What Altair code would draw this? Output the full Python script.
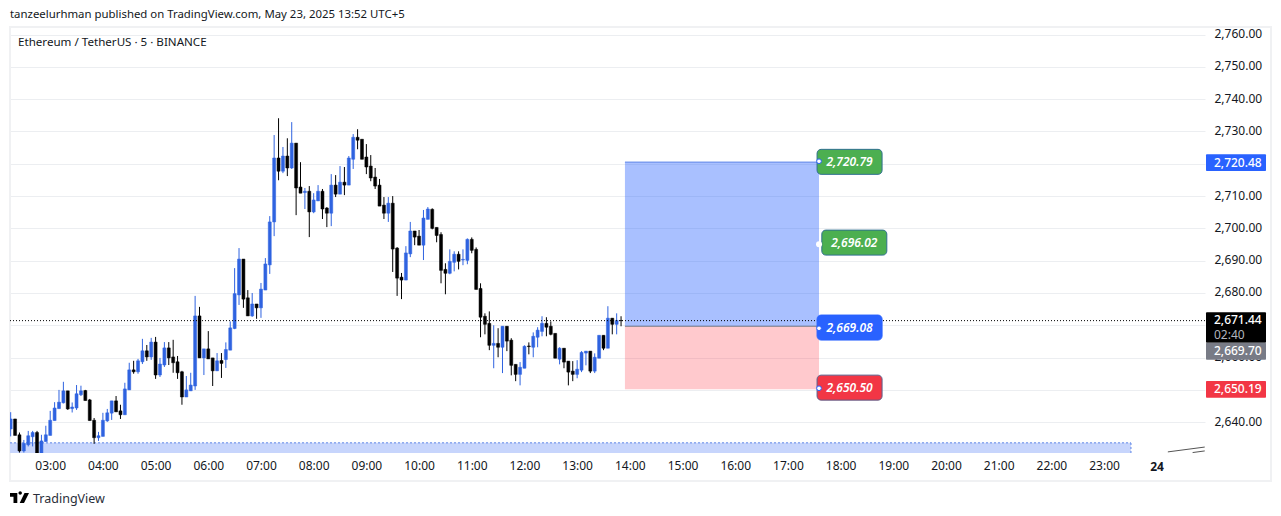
import altair as alt
import pandas as pd

# OHLC values of the 5-minute candles
opens = [2637.9,2641.0,2636.1,2631.1,2633.0,2635.5,2636.8,2630.4,2634.0,2635.9,2640.5,2644.2,2646.0,2649.7,2644.2,2644.4,2648.5,2649.8,2646.9,2640.6,2635.2,2635.6,2640.4,2642.8,2646.6,2643.5,2642.3,2650.0,2656.2,2655.6,2658.7,2662.1,2660.2,2664.8,2654.6,2657.7,2663.0,2660.2,2658.7,2655.6,2647.8,2649.7,2651.2,2672.9,2659.9,2662.7,2659.9,2655.9,
 2659.1,2659.4,2662.3,2669.0,
 2679.4,2690.5,2678.5,2672.9,2676.6,2675.4,2680.9,2688.7,2702.0,2721.8,2717.7,2722.4,2718.7,2726.4,2712.8,2711.1,2711.5,2705.1,2708.5,2711.5,2706.3,2704.7,2713.4,2710.6,2714.3,2713.4,2721.4,2728.2,2727.6,2722.1,2719.3,2715.9,2713.4,2707.2,2704.7,2707.8,2693.9,2684.9,2684.0,2692.1,2699.2,2697.6,2694.8,2702.8,
 2705.9,2700.3,2698.1,2687.3,2686.1,2689.5,2692.0,2690.2,2690.1,2696.6,2693.5,2681.4,2672.8,2670.6,2663.8,2664.4,2663.2,2669.7,2665.4,2657.9,2654.8,2656.7,2663.6,2663.2,2666.3,2668.1,2670.6,2669.7,2667.5,2659.5,2662.9,2658.9,2655.8,2654.8,2656.1,2661.4,2662.0,2655.8,2659.8,2666.9,2662.9,2672.2,2670.3,2671.5]
closes = [2641.0,2635.9,2631.1,2633.4,2635.8,2636.8,2630.4,2634.2,2636.1,2640.6,2644.4,2646.2,2649.7,2644.1,2644.7,2648.8,2649.7,2646.7,2640.5,2635.2,2635.8,2640.6,2642.9,2646.6,2643.2,2642.3,2650.3,2656.2,2655.6,2659.0,2662.1,2660.2,2664.8,2654.6,2658.0,2663.0,2659.9,2658.4,2655.3,2647.8,2650.0,2651.5,2672.9,2659.9,2662.7,2659.6,2655.9,2659.0,
 2658.2,2662.5,2669.2,2679.8,
 2690.5,2678.1,2672.9,2676.6,2675.4,2681.2,2689.0,2702.0,2721.8,2717.7,2722.4,2718.7,2726.4,2712.5,2710.9,2711.5,2705.1,2708.8,2711.5,2706.0,2704.7,2713.4,2710.6,2714.3,2713.4,2721.8,2728.2,2727.3,2721.4,2719.0,2715.6,2713.1,2706.9,2704.7,2707.8,2693.6,2684.6,2684.0,2692.4,2699.2,2697.3,2694.8,2703.2,2706.0,
 2700.0,2697.8,2687.0,2686.1,2689.8,2692.0,2689.8,2690.4,2696.6,2693.2,2681.1,2672.5,2670.3,2663.8,2664.4,2663.2,2669.7,2665.1,2657.6,2654.8,2657.0,2663.5,2663.4,2666.6,2668.5,2670.6,2669.4,2667.2,2659.8,2662.9,2658.6,2655.5,2654.8,2656.4,2661.6,2662.0,2655.8,2660.1,2666.9,2662.9,2672.2,2670.3,2671.5,2671.44]
highs = [2643.1,2641.0,2636.8,2634.5,2637.3,2637.3,2637.3,2636.1,2638.9,2643.5,2646.2,2650.0,2652.5,2649.7,2646.1,2651.5,2651.3,2650.0,2647.2,2641.3,2637.0,2642.9,2644.1,2646.6,2648.1,2645.4,2652.2,2658.4,2659.0,2659.6,2665.8,2663.9,2666.1,2666.4,2659.9,2664.8,2664.8,2665.5,2660.5,2655.9,2654.3,2655.3,2679.1,2675.7,2662.7,2668.2,2659.9,2661.4,
 2661.4,2664.7,2671.2,2687.7,
 2693.9,2690.5,2680.9,2680.0,2676.6,2683.1,2690.8,2703.8,2728.9,2734.1,2725.2,2727.9,2732.9,2726.4,2720.5,2712.5,2713.1,2710.9,2713.4,2712.2,2706.6,2716.8,2716.5,2719.3,2719.0,2722.4,2729.2,2730.7,2727.6,2726.1,2722.7,2718.7,2715.3,2709.7,2709.7,2710.0,2694.2,2686.2,2694.5,2702.0,2699.2,2699.5,2705.7,2706.6,
 2706.2,2700.3,2698.8,2689.2,2693.5,2692.9,2692.9,2693.5,2696.9,2697.2,2694.1,2683.0,2673.7,2674.3,2670.0,2669.1,2669.7,2669.7,2666.0,2657.9,2658.6,2663.8,2664.7,2667.8,2669.4,2672.8,2672.5,2671.2,2667.5,2663.2,2662.9,2658.9,2658.9,2659.2,2662.0,2662.0,2662.0,2661.3,2666.9,2666.9,2675.9,2672.2,2673.7,2672.8]
lows = [2635.6,2635.9,2630.6,2630.6,2632.5,2632.5,2630.0,2630.0,2634.0,2635.9,2640.5,2644.2,2645.8,2643.8,2643.0,2643.8,2648.1,2646.7,2640.5,2633.3,2634.2,2635.6,2640.1,2640.7,2643.2,2641.0,2642.3,2650.0,2655.0,2655.0,2658.0,2659.0,2659.3,2653.4,2654.0,2657.1,2657.7,2655.3,2653.4,2645.4,2647.8,2649.7,2650.0,2659.9,2654.6,2659.6,2651.2,2655.9,
 2653.7,2656.8,2662.3,2668.8,
 2676.3,2675.4,2672.9,2672.6,2672.0,2672.3,2680.9,2685.9,2697.6,2714.9,2717.1,2716.2,2718.4,2704.1,2710.9,2706.0,2697.3,2704.7,2708.5,2702.9,2700.4,2700.7,2709.7,2710.6,2710.3,2713.4,2718.4,2724.5,2721.4,2716.8,2714.6,2712.2,2706.9,2702.9,2702.0,2686.5,2679.1,2678.1,2684.0,2691.1,2694.8,2694.8,2690.2,2702.8,
 2699.7,2695.7,2683.0,2679.6,2685.8,2686.7,2687.3,2688.6,2688.9,2692.3,2681.1,2666.3,2667.2,2662.3,2656.7,2660.1,2655.2,2662.0,2654.5,2652.7,2651.4,2656.7,2661.0,2660.1,2663.2,2666.6,2666.6,2666.9,2659.8,2657.9,2656.7,2651.4,2652.7,2653.6,2655.5,2657.6,2655.2,2655.2,2659.8,2662.3,2662.9,2667.2,2667.2,2669.7]

price_ticks = list(range(2640, 2770, 10))
hour_ticks = list(range(3, 24))
x_domain = [2.237, 24.915]
y_domain = [2630.46, 2762.35]

last_price = 2671.44
tp_price = 2720.48
entry_price = 2669.70
sl_price = 2650.19
box_start, box_end = 13.907, 17.59
band_top, band_end = 2633.6, 23.51

pill_prices = [2720.79, 2696.02, 2669.08, 2650.50]
pill_texts = ["2,720.79", "2,696.02", "2,669.08", "2,650.50"]
pill_hours = [18.17, 18.26, 18.17, 18.17]
pill_y = [2720.6, 2695.6, 2669.3, 2650.7]
pill_fills = ["#4caf50", "#4caf50", "#2962ff", "#f23645"]
pill_strokes = ["#2f6f8f", "#2f6f8f", "#2962ff", "#5a5f8a"]

FONT = "Noto Sans"
INK = "#131722"
BLUE = "#2f63e0"

candles = pd.DataFrame({
    "t": [2.25 + i / 12 for i in range(len(opens))],
    "o": opens, "h": highs, "l": lows, "c": closes,
})
candles["col"] = [BLUE if c >= o else "#000000" for o, c in zip(opens, closes)]

XS = alt.Scale(domain=x_domain, nice=False, zero=False, padding=0)
YS = alt.Scale(domain=y_domain, nice=False, zero=False, padding=0)

XAX = alt.Axis(values=hour_ticks, grid=False, domain=False, ticks=False, labelPadding=7,
               labelFlush=False, labelOverlap=False, labelFont=FONT, labelFontSize=12,
               labelColor=INK,
               labelExpr="(datum.value < 10 ? '0' : '') + datum.value + ':00'")
YAX = alt.Axis(orient="right", values=price_ticks, format=",.2f", grid=True, gridColor="#eceef1",
               gridWidth=1, domain=False, ticks=False, labelPadding=9, labelOverlap=False,
               labelOffset=-1, labelFlush=False, labelFont=FONT, labelFontSize=12, labelColor=INK)
col = alt.Color("col:N", scale=None, legend=None)

def xq(f): return alt.X(f, title=None, scale=XS, axis=XAX)
def yq(f): return alt.Y(f, title=None, scale=YS, axis=YAX)

# plain tables for the annotation layers
box_tp = pd.DataFrame({"x": [box_start], "x2": [box_end], "y": [tp_price], "y2": [entry_price]})
box_sl = pd.DataFrame({"x": [box_start], "x2": [box_end], "y": [entry_price], "y2": [sl_price]})
band = pd.DataFrame({"x": [x_domain[0]], "x2": [band_end], "y": [y_domain[0]], "y2": [band_top]})
pills = pd.DataFrame({"x": pill_hours, "y": pill_y, "txt": pill_texts, "fill": pill_fills,
                      "stroke": pill_strokes, "xd": [box_end] * 4, "yd": pill_prices})
dot = pd.DataFrame({"x": [box_end], "y": [2695.1]})

layers = []
# frame
layers.append(alt.Chart(band).mark_rect(fill="transparent", stroke="#f0f1f3", strokeWidth=2, clip=False).encode(
    x=alt.value(0), x2=alt.value(1261), y=alt.value(0), y2=alt.value(454)))
# band at the bottom
layers.append(alt.Chart(band).mark_rect(color="#c7d5fc", clip=True).encode(
    x=xq("x:Q"), x2="x2:Q", y=yq("y:Q"), y2="y2:Q"))
layers.append(alt.Chart(band).mark_rule(color="#5f86e6", strokeDash=[2, 2], strokeWidth=1).encode(
    x=xq("x:Q"), x2="x2:Q", y=yq("y2:Q")))
layers.append(alt.Chart(band).mark_rule(color="#5f86e6", strokeDash=[2, 2], strokeWidth=1).encode(
    x=xq("x2:Q"), y=yq("y:Q"), y2="y2:Q"))
layers.append(alt.Chart(candles).mark_rule(strokeWidth=1, clip=True).encode(
    x=xq("t:Q"), y=yq("l:Q"), y2="h:Q", color=col))
layers.append(alt.Chart(candles).mark_bar(size=3, clip=True, strokeWidth=0.5).encode(
    x=xq("t:Q"), y=yq("o:Q"), y2="c:Q", color=col, stroke=alt.Stroke("col:N", scale=None, legend=None)))
# long position
layers.append(alt.Chart(box_tp).mark_rect(color="#2962ff", opacity=0.4).encode(
    x=xq("x:Q"), x2="x2:Q", y=yq("y:Q"), y2="y2:Q"))
layers.append(alt.Chart(box_sl).mark_rect(color="#ff3645", opacity=0.27).encode(
    x=xq("x:Q"), x2="x2:Q", y=yq("y:Q"), y2="y2:Q"))
layers.append(alt.Chart(box_tp).mark_rule(color="#7d9df0", strokeWidth=1.5).encode(
    x=xq("x:Q"), x2="x2:Q", y=yq("y:Q")))
layers.append(alt.Chart(box_tp).mark_rule(color="#787b86", strokeWidth=1.2).encode(
    x=xq("x:Q"), x2="x2:Q", y=yq("y2:Q")))
# last-price line
layers.append(alt.Chart(pd.DataFrame({"y": [last_price], "x": [x_domain[0]], "x2": [x_domain[1]]}))
              .mark_rule(color="#000000", strokeDash=[1, 2], strokeWidth=1).encode(
    x=xq("x:Q"), x2="x2:Q", y=yq("y:Q")))
# pills
layers.append(alt.Chart(pills).mark_rect(width=65, height=25, cornerRadius=4, strokeWidth=1).encode(
    x=xq("x:Q"), y=yq("y:Q"), color=alt.Color("fill:N", scale=None, legend=None),
    stroke=alt.Stroke("stroke:N", scale=None, legend=None)))
layers.append(alt.Chart(pills).mark_text(font=FONT, fontSize=12, fontStyle="italic", fontWeight=600,
                                         color="#ffffff").encode(x=xq("x:Q"), y=yq("y:Q"), text="txt:N"))
layers.append(alt.Chart(pills[pills["txt"] != "2,696.02"]).mark_point(filled=True, fill="#ffffff", stroke="#2962ff",
                                                                    size=22, strokeWidth=1, opacity=1).encode(
    x=xq("xd:Q"), y=yq("yd:Q")))
layers.append(alt.Chart(dot).mark_point(filled=True, fill="#ffffff", size=36, opacity=1).encode(
    x=xq("x:Q"), y=yq("y:Q")))
# slanted tool lines, bottom right
for xs, ys in (([24.21, 24.91], [2630.8, 2632.3]), ([24.68, 24.91], [2630.6, 2631.1])):
    layers.append(alt.Chart(pd.DataFrame({"x": xs, "y": ys})).mark_line(color="#555555", strokeWidth=1).encode(
        x=xq("x:Q"), y=yq("y:Q")))

# price tags on the axis
tags = [("2,720.48", 154.3, 171.0, "#2962ff", "#ffffff"),
        ("2,671.44", 312.3, 342.7, "#000000", "#ffffff"),
        ("2,669.70", 342.7, 359.7, "#787b86", "#ffffff"),
        ("2,650.19", 381.0, 397.7, "#f23645", "#ffffff")]
for txt, top, bot, fill, ink in tags:
    layers.append(alt.Chart(band).mark_rect(color=fill, cornerRadius=1).encode(
        x=alt.value(1196), x2=alt.value(1256), y=alt.value(top - 27), y2=alt.value(bot - 27)))
    cy = (top + bot) / 2 if txt != "2,671.44" else 319.7
    layers.append(alt.Chart(band).mark_text(text=txt, font=FONT, fontSize=12, color=ink, align="left",
                                            fontWeight=500).encode(
        x=alt.value(1204), y=alt.value(cy - 27)))
layers.append(alt.Chart(band).mark_text(text="02:40", font=FONT, fontSize=12, color="#b2b5be", align="left").encode(
    x=alt.value(1204), y=alt.value(334.5 - 27)))

# free texts
layers.append(alt.Chart(band).mark_text(text="24", font=FONT, fontSize=12, fontWeight="bold", color=INK).encode(
    x=alt.value(1147), y=alt.value(440)))
layers.append(alt.Chart(band).mark_text(
    text="tanzeelurhman published on TradingView.com, May 23, 2025 13:52 UTC+5",
    font=FONT, fontSize=11.4, color=INK, align="left").encode(x=alt.value(0), y=alt.value(-12.5)))
layers.append(alt.Chart(band).mark_text(
    text="Ethereum / TetherUS · 5 · BINANCE", font=FONT, fontSize=11.6, color=INK, align="left").encode(
    x=alt.value(8), y=alt.value(15.5)))
layers.append(alt.Chart(band).mark_text(text="TradingView", font=FONT, fontSize=12.5, color="#2a2e39", align="left").encode(
    x=alt.value(23), y=alt.value(472)))
logo = "M-0.95 -0.5 H-0.22 V0.5 H-0.6 V-0.12 H-0.95 Z M-0.1 -0.5 a0.17 0.17 0 1 0 0.34 0 a0.17 0.17 0 1 0 -0.34 0 Z M0.95 -0.5 L0.45 0.5 H0.02 L0.5 -0.5 Z"
layers.append(alt.Chart(band).mark_point(shape=logo, filled=True, fill="#000000", size=400, opacity=1).encode(
    x=alt.value(9.5), y=alt.value(471)))

chart = (alt.layer(*layers)
         .properties(width=1195, height=426,
                     padding={"left": 2, "top": 19, "right": 68, "bottom": 55},
                     autosize=alt.AutoSizeParams(type="none"),
                     background="#ffffff")
         .configure_view(stroke=None))

chart.save("out.html", embed_options={"renderer": "svg", "actions": False})
